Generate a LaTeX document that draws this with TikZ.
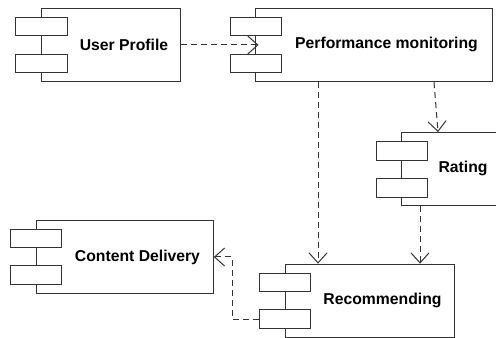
\documentclass[tikz,border=0pt]{standalone}
\usepackage{fontspec}
\setmainfont{Liberation Sans}
\usetikzlibrary{arrows.meta,calc}
\begin{document}
\begin{tikzpicture}[x=0.75pt,y=-0.75pt,
  comp/.style={draw=black!80,line width=0.75pt,fill=white,inner sep=0pt,minimum height=55pt},
  port/.style={draw=black!80,line width=0.75pt,fill=white,inner sep=0pt,minimum width=38.6pt,minimum height=13.9pt},
  lbl/.style={font=\fontsize{11.8}{14}\selectfont\bfseries,inner sep=0pt},
  dep/.style={draw=black!80,line width=0.75pt,dash pattern=on 4.5pt off 3pt,-{Straight Barb[length=7.5pt,width=13.5pt]}}]
\useasboundingbox (0,0) rectangle (496,338);
% User Profile
\node[comp,minimum width=104.6pt] (up) at (111.25,45) {};
\node[port] (up1) at (41.5,26.7) {};
\node[port] (up2) at (41.5,63.3) {};
\node[lbl] (upt) at (124,44.5) {User Profile};
% Performance monitoring
\node[comp,minimum width=178pt] (pm) at (373.7,45) {};
\node[port] (pm1) at (255.9,26.7) {};
\node[port] (pm2) at (255.9,63.3) {};
\node[lbl] (pmt) at (386.5,44.5) {Performance monitoring};
% Rating
\node[comp,minimum width=72.2pt] (rt) at (449.9,169.2) {};
\node[port] (rt1) at (401.8,151) {};
\node[port] (rt2) at (401.8,187.8) {};
\node[lbl] (rtt) at (463,168.5) {Rating};
% Recommending
\node[comp,minimum width=127pt] (rec) at (369.7,300.8) {};
\node[port] (rec1) at (285,282.5) {};
\node[port] (rec2) at (285,319.2) {};
\node[lbl] (rect) at (382.5,300.5) {Recommending};
% Content Delivery
\node[comp,minimum width=132.5pt] (cd) at (125,257) {};
\node[port] (cd1) at (36,238.5) {};
\node[port] (cd2) at (36,275.2) {};
\node[lbl] (cdt) at (137.5,257) {Content Delivery};
% connectors
\draw[dep,shorten >=-3pt] (up.east) -- (pm.west);
\draw[dep] (pm.south -| 434,0) -- (rt.north -| 438,0);
\draw[dep] (pm.south -| 318,0) -- (rec.north -| 318,0);
\draw[dep] (rt.south -| 420,0) -- (rec.north -| 420,0);
\draw[dep] (rec2.west) -- (rec2.west -| 232,0) |- (cd.east);
\end{tikzpicture}
\end{document}
